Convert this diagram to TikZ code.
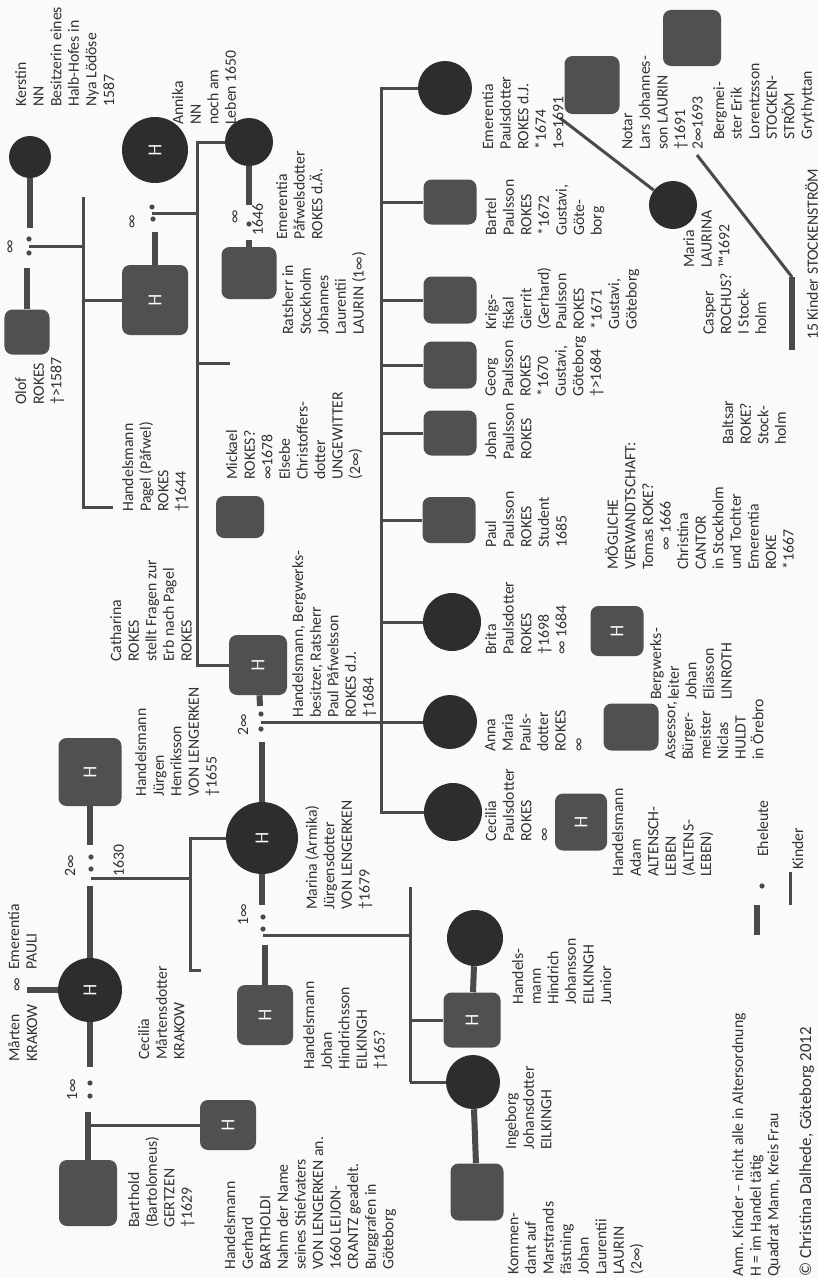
\documentclass[tikz,border=0pt]{standalone}
\usepackage{fontspec}
\setmainfont{Carlito}
\usetikzlibrary{backgrounds}
\definecolor{inkgray}{HTML}{313131}
\definecolor{mangray}{HTML}{505050}
\definecolor{womangray}{HTML}{2D2D2D}
\definecolor{linegray}{HTML}{4A4A4A}
\definecolor{paper}{HTML}{FAFAF8}

\begin{document}
\begin{tikzpicture}[
    x=0.25mm, y=-0.25mm,
    font=\fontsize{11.2}{12.5}\selectfont,
    man/.style={rectangle,rounded corners=2mm,fill=mangray,inner sep=0pt,
      text=white,rotate=90,font=\sffamily\fontsize{13}{13}\selectfont},
    woman/.style={circle,fill=womangray,inner sep=0pt,
      text=white,rotate=90,font=\sffamily\fontsize{13}{13}\selectfont},
    info/.style={rotate=90,anchor=north west,align=left,inner sep=0pt,text=inkgray},
    sign/.style={rotate=90,inner sep=0pt,text=inkgray},
    marr/.style={line width=1.5mm,color=linegray},
    kids/.style={line width=0.75mm,color=linegray},
    ehedot/.style={fill=linegray}
  ]
  \useasboundingbox (0,0) rectangle (818,1278);

  % ROKES / NN, oberste Generation
  \node[woman,minimum size=10.5mm] (kerstin) at (30,157) {};
  \node[info] (kerstinT) at (15,107) {Kerstin\\NN\\Besitzerin eines\\Halb-Hofes in\\Nya Lödöse\\1587};
  \node[man,minimum width=11.25mm,minimum height=11.25mm] (olof) at (27,332) {};
  \node[info] (olofT) at (15,405) {Olof\\ROKES\\†>1587};
  \node[sign] (okInf) at (11,247) {∞};

  \node[woman,minimum size=16.5mm] (annika) at (155,150) {H};
  \node[info] (annikaT) at (172,125) {Annika\\NN\\noch am\\Leben 1650};
  \node[man,minimum width=17.5mm,minimum height=16.5mm] (pagel) at (155,300) {H};
  \node[info] (pagelT) at (122,512) {Handelsmann\\Pagel (Påfwel)\\ROKES\\†1644};
  \node[sign] (paInf) at (133,222) {∞};
  \node[info] (catharinaT) at (110,662) {Catharina\\ROKES\\stellt Fragen zur\\Erb nach Pagel\\ROKES};

  % Kinder von Pagel
  \node[woman,minimum size=12mm] (emA) at (249,142) {};
  \node[info] (emAT) at (276,240) {Emerentia\\Påfwelsdotter\\ROKES d.Ä.};
  \node[sign] (erInf) at (236,217) {∞};
  \node[info] (erYear) at (252,236) {1646};
  \node[man,minimum width=13mm,minimum height=13.75mm] (ratsherr) at (249,273) {};
  \node[info] (ratsherrT) at (282,335) {Ratsherr in\\Stockholm\\Johannes\\Laurentii\\LAURIN (1∞)};
  \node[man,minimum width=10.5mm,minimum height=12mm] (mickael) at (240,517) {};
  \node[info] (mickaelT) at (226,480) {Mickael\\ROKES?\\∞1678\\Elsebe\\Christoffers-\\dotter\\UNGEWITTER\\(2∞)};
  \node[man,minimum width=15mm,minimum height=14.5mm] (paul) at (258,665) {H};
  \node[info] (paulT) at (292,718) {Handelsmann, Bergwerks-\\besitzer, Ratsherr\\Paul Påfwelsson\\ROKES d.J.\\†1684};
  \node[woman,minimum size=18mm] (marina) at (262,838) {H};
  \node[info] (marinaT) at (305,910) {Marina (Armika)\\Jürgensdotter\\VON LENGERKEN\\†1679};
  \node[sign] (pmInf) at (243,725) {2∞};
  \node[sign] (mjInf) at (243,915) {1∞};

  % KRAKOW / VON LENGERKEN / GERTZEN
  \node[info] (maertenT) at (8,1062) {Mårten\\KRAKOW};
  \node[info] (pauliT) at (8,970) {Emerentia\\PAULI};
  \node[sign] (mpInf) at (18,985) {∞};
  \node[woman,minimum size=16mm] (cecilia) at (90,990) {H};
  \node[info] (ceciliaT) at (138,1060) {Cecilia\\Mårtensdotter\\KRAKOW};
  \node[man,minimum width=17mm,minimum height=15.75mm] (juergen) at (90,772) {H};
  \node[info] (juergenT) at (135,797) {Handelsmann\\Jürgen\\Henriksson\\VON LENGERKEN\\†1655};
  \node[sign] (jcInf) at (70,866) {2∞};
  \node[info] (jcYear) at (113,877) {1630};
  \node[man,minimum width=16.5mm,minimum height=14.5mm] (bartold) at (88,1193) {};
  \node[info] (bartoldT) at (128,1228) {Barthold\\(Bartolomeus)\\GERTZEN\\†1629};
  \node[sign] (cbInf) at (72,1090) {1∞};
  \node[man,minimum width=12.5mm,minimum height=14mm] (gerhard) at (228,1125) {H};
  \node[info] (gerhardT) at (224,1270) {Handelsmann\\Gerhard\\BARTHOLDI\\Nahm der Name\\seines Stiefvaters\\VON LENGERKEN an.\\1660 LEIJON-\\CRANTZ geadelt.\\Burggrafen in\\Göteborg};

  % EILKINGH
  \node[man,minimum width=15mm,minimum height=14mm] (johan) at (265,1015) {H};
  \node[info] (johanT) at (303,1070) {Handelsmann\\Johan\\Hindrichsson\\EILKINGH\\†165?};
  \node[woman,minimum size=14mm] (hindrichW) at (475,938) {};
  \node[man,minimum width=13.75mm,minimum height=14.25mm] (hindrich) at (472,1020) {H};
  \node[info] (hindrichT) at (512,1005) {Handels-\\mann\\Hindrich\\Johansson\\EILKINGH\\Junior};
  \node[woman,minimum size=13.5mm] (ingeborg) at (473,1082) {};
  \node[info] (ingeborgT) at (505,1150) {Ingeborg\\Johansdotter\\EILKINGH};
  \node[man,minimum width=14.25mm,minimum height=13.25mm] (kommendant) at (477,1192) {};
  \node[info] (kommendantT) at (508,1275) {Kommen-\\dant auf\\Marstrands\\fästning\\Johan\\Laurentii\\LAURIN\\(2∞)};

  % Kinder von Paul Påfwelsson
  \node[woman,minimum size=13.5mm] (emD) at (445,88) {};
  \node[info] (emDT) at (482,150) {Emerentia\\Paulsdotter\\ROKES d.J.\\*1674\\1∞1691};
  \node[man,minimum width=11.25mm,minimum height=13.25mm] (bartel) at (450,202) {};
  \node[info] (bartelT) at (485,236) {Bartel\\Paulsson\\ROKES\\*1672\\Gustavi,\\Göte-\\borg};
  \node[man,minimum width=11.75mm,minimum height=13.25mm] (krigs) at (450,300) {};
  \node[info] (krigsT) at (485,330) {Krigs-\\fiskal\\Gierrit\\(Gerhard)\\Paulsson\\ROKES\\*1671\\Gustavi,\\Göteborg};
  \node[man,minimum width=11.75mm,minimum height=13.25mm] (georg) at (450,365) {};
  \node[info] (georgT) at (485,397) {Georg\\Paulsson\\ROKES\\*1670\\Gustavi,\\Göteborg\\†>1684};
  \node[man,minimum width=11.25mm,minimum height=13.25mm] (johanP) at (450,433) {};
  \node[info] (johanPT) at (485,460) {Johan\\Paulsson\\ROKES};
  \node[man,minimum width=11.5mm,minimum height=13.25mm] (paulP) at (449,520) {};
  \node[info] (paulPT) at (485,548) {Paul\\Paulsson\\ROKES\\Student\\1685};
  \node[woman,minimum size=14.5mm] (brita) at (452,622) {};
  \node[info] (britaT) at (485,655) {Brita\\Paulsdotter\\ROKES\\†1698\\∞ 1684};
  \node[woman,minimum size=13.5mm] (anna) at (450,722) {};
  \node[info] (annaT) at (485,752) {Anna\\Maria\\Pauls-\\dotter\\ROKES\\∞};
  \node[woman,minimum size=14.5mm] (ceciliaP) at (453,812) {};
  \node[info] (ceciliaPT) at (485,842) {Cecilia\\Paulsdotter\\ROKES\\∞};

  % Ehepartner der Kinder
  \node[man,minimum width=12.5mm,minimum height=13.25mm] (bergw) at (617,631) {H};
  \node[info] (bergwT) at (650,700) {Bergwerks-\\leiter\\Johan\\Eliasson\\LINROTH};
  \node[man,minimum width=11.75mm,minimum height=13.75mm] (assessor) at (631,727) {};
  \node[info] (assessorT) at (665,760) {Assessor,\\Bürger-\\meister\\Niclas\\HULDT\\in Örebro};
  \node[man,minimum width=14.25mm,minimum height=13mm] (adam) at (581,822) {H};
  \node[info] (adamT) at (612,877) {Handelsmann\\Adam\\ALTENSCH-\\LEBEN\\(ALTENS-\\LEBEN)};
  \node[man,minimum width=14.5mm,minimum height=13.75mm] (notar) at (592,85) {};
  \node[info] (notarT) at (622,150) {Notar\\Lars Johannes-\\son LAURIN\\†1691\\2∞1693};
  \node[man,minimum width=14mm,minimum height=14.5mm] (berg) at (692,38) {};
  \node[info] (bergT) at (713,140) {Bergmei-\\ster Erik\\Lorentzsson\\STOCKEN-\\STRÖM\\Grythyttan};
  \node[woman,minimum size=12mm] (maria) at (673,205) {};
  \node[info] (mariaT) at (683,268) {Maria\\LAURINA\\™1692};
  \node[info] (kinderT) at (805,340) {15 Kinder STOCKENSTRÖM};
  \node[info] (casperT) at (703,335) {Casper\\ROCHUS?\\I Stock-\\holm};
  \node[info] (baltsarT) at (722,445) {Baltsar\\ROKE?\\Stock-\\holm};
  \node[info] (moeglichT) at (605,570) {MÖGLICHE\\VERWANDTSCHAFT:\\Tomas ROKE?\\\hspace*{1.2em}∞ 1666\\Christina\\CANTOR\\in Stockholm\\und Tochter\\Emerentia\\ROKE\\*1667};

  % Legende
  \node[info] (eheT) at (757,857) {Eheleute};
  \node[info] (kinderLT) at (792,870) {Kinder};
  \node[info] (anmT) at (732,1277) {Anm. Kinder – nicht alle in Altersordnung\\H = im Handel tätig\\Quadrat Mann, Kreis Frau};
  \node[info,font=\fontsize{12}{13}\selectfont] (copyT) at (799,1277) {© Christina Dalhede, Göteborg 2012};

  \begin{pgfonlayer}{background}
    \fill[paper] (0,0) rectangle (818,1278);
    % Olof und Kerstin
    \coordinate (ok1) at (30,228);
    \coordinate (ok2) at (27,268);
    \coordinate (okj) at (29,246);
    \draw[marr] (kerstin) -- (kerstin |- ok1);
    \draw[marr] (ok2) -- (olof);
    \fill[ehedot] (29,239) circle[radius=0.65mm] (29,253) circle[radius=0.65mm];
    \draw[kids] (okj) -- (83,246);
    \draw[kids] (83,197) -- (83,507) -- (113,507);
    \draw[kids] (83,300) -- (pagel);
    % Pagel und Annika
    \coordinate (pa1) at (152,232);
    \coordinate (paj) at (152,213);
    \coordinate (pkbot) at (197,665);
    \draw[marr] (pagel) -- (pagel |- pa1);
    \fill[ehedot] (152,207) circle[radius=0.65mm] (153,219) circle[radius=0.65mm];
    \draw[kids] (paj) -- (197,213);
    \draw[kids] (emA) -| (pkbot) -- (paul);
    \draw[kids] (197,363) -- (230,363);
    % Emerentia d.Ä. und Ratsherr
    \coordinate (er1) at (249,205);
    \coordinate (er2) at (249,240);
    \draw[marr] (emA) -- (er1);
    \fill[ehedot] (249,224) circle[radius=0.65mm];
    \draw[marr] (er2) -- (ratsherr);
    % Paul und Marina
    \coordinate (pm1) at (260,706);
    \coordinate (pm2) at (262,742);
    \coordinate (pmj) at (261,722);
    \coordinate (pcbot) at (381,812);
    \draw[marr] (paul) -- (pm1);
    \fill[ehedot] (261,714) circle[radius=0.65mm] (261,729) circle[radius=0.65mm];
    \draw[marr] (pm2) -- (marina);
    \draw[kids] (pmj) -- (anna);
    \draw[kids] (emD) -| (pcbot) -- (ceciliaP);
    \foreach \kid in {bartel,krigs,georg,johanP,paulP,brita}
      \draw[kids] (\kid -| pcbot) -- (\kid);
    % Marina und Johan
    \coordinate (mj1) at (262,905);
    \coordinate (mj2) at (265,945);
    \coordinate (mjj) at (263,935);
    \coordinate (mkbar) at (410,935);
    \draw[marr] (marina) -- (mj1);
    \fill[ehedot] (263,917) circle[radius=0.65mm] (263,929) circle[radius=0.65mm];
    \draw[marr] (mj2) -- (johan);
    \draw[kids] (mjj) -- (mkbar);
    \draw[kids] (410,887) -- (410,1082);
    \draw[kids] (hindrich -| mkbar) -- (hindrich);
    \draw[kids] (ingeborg -| mkbar) -- (ingeborg);
    \draw[marr] (hindrichW) -- (hindrich);
    \draw[marr] (ingeborg) -- (kommendant);
    % Juergen und Cecilia
    \coordinate (jc1) at (90,845);
    \coordinate (jc2) at (90,886);
    \coordinate (jcj) at (91,878);
    \coordinate (cmbot) at (190,970);
    \draw[marr] (juergen) -- (jc1);
    \fill[ehedot] (91,857) circle[radius=0.65mm] (91,869) circle[radius=0.65mm];
    \draw[marr] (jc2) -- (cecilia);
    \draw[kids] (jcj) -- (190,878);
    \draw[kids] (marina) -| (cmbot) -- ++(11,0);
    % Cecilia und Barthold
    \coordinate (cb1) at (90,1067);
    \coordinate (cb2) at (88,1112);
    \draw[marr] (cecilia) -- (cb1);
    \fill[ehedot] (90,1083) circle[radius=0.65mm] (90,1096) circle[radius=0.65mm];
    \draw[marr] (cb2) -- (bartold);
    \draw[kids] (bartold |- gerhard) -- (gerhard);
    \coordinate (me1) at (27,990);
    \draw[marr] (me1) -- (cecilia);
    % Emerentia d.J.
    \coordinate (en1) at (560,118);
    \coordinate (en2) at (697,155);
    \coordinate (kb1) at (792,277);
    \coordinate (kb2) at (792,350);
    \draw[kids] (en1) -- (maria);
    \draw[kids] (en2) -- (kb1);
    \draw[marr] (kb1) -- (kb2);
    % Legende
    \draw[marr] (757,905) -- (757,935);
    \fill[ehedot] (762,886) circle[radius=0.65mm];
    \draw[kids] (790,872) -- (790,905);
  \end{pgfonlayer}
\end{tikzpicture}
\end{document}
